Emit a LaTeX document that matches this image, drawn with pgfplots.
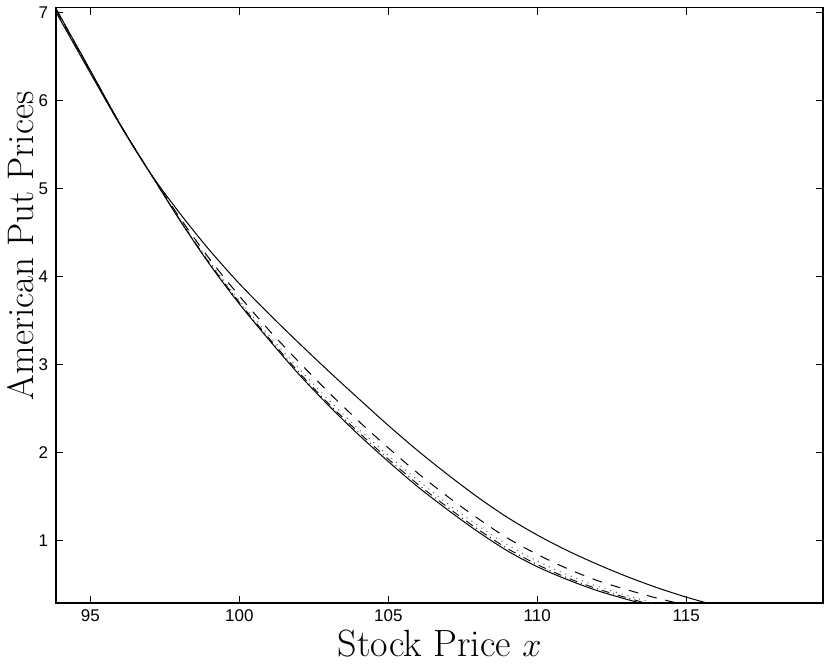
\documentclass[border=0pt]{standalone}
\usepackage{fontspec}
\usepackage{pgfplots}
\pgfplotsset{compat=1.18}
\newfontfamily\ticksfont{Liberation Sans}

\pgfplotstableread{
x      up     dash   dot    dashdot lo
93.85  7.000  7.025  7.030  7.037   7.040
95     6.310  6.330  6.335  6.338   6.340
96     5.720  5.726  5.728  5.729   5.730
97     5.180  5.180  5.180  5.180   5.180
98     4.720  4.670  4.650  4.646   4.640
99     4.300  4.200  4.170  4.151   4.140
100    3.920  3.780  3.730  3.706   3.690
101    3.575  3.390  3.330  3.298   3.280
102    3.245  3.030  2.955  2.913   2.890
103    2.925  2.685  2.600  2.555   2.535
104    2.615  2.360  2.270  2.233   2.205
105    2.310  2.055  1.970  1.928   1.900
106    2.020  1.765  1.685  1.639   1.610
107    1.750  1.500  1.420  1.378   1.350
108    1.495  1.255  1.175  1.132   1.105
109    1.265  1.030  0.955  0.912   0.885
110    1.065  0.845  0.770  0.730   0.705
111    0.890  0.685  0.615  0.580   0.560
112    0.735  0.550  0.485  0.456   0.435
113    0.595  0.445  0.380  0.353   0.335
114    0.470  0.350  0.285  0.260   0.245
115    0.360  0.270  0.205  0.185   0.170
116    0.265  0.200  0.140  0.120   0.110
}\prices

\begin{document}
\begin{tikzpicture}
\begin{axis}[
  width=384pt, height=298pt, scale only axis,
  xmin=93.85, xmax=119.6, ymin=0.294, ymax=7.055,
  xtick={95,100,105,110,115},
  ytick={1,2,3,4,5,6,7},
  tick align=inside, tick pos=both,
  major tick length=3.5pt,
  axis line style={line width=0.8pt},
  every tick/.style={line width=0.6pt, black},
  /pgf/number format/assume math mode=true,
  tick label style={font=\ticksfont\fontsize{8.5}{10}\selectfont},
  xticklabel shift=-0.3pt,
  yticklabel shift=0.5pt,
  xlabel={Stock Price $x$},
  ylabel={American Put Prices},
  xlabel style={font=\fontsize{19}{23}\selectfont, inner sep=3pt,
    at={(axis description cs:0.5,0)}, anchor=base, yshift=-27pt},
  ylabel style={font=\fontsize{18.5}{22}\selectfont, inner sep=3.5pt,
    at={(axis description cs:-0.0469,0.6)}, anchor=center},
  clip=true,
]
\addplot[black, line width=0.5pt, smooth] table[x=x, y=up] {\prices};
\addplot[black, line width=0.5pt, smooth, dash pattern=on 5pt off 4.5pt] table[x=x, y=dash] {\prices};
\addplot[black!65, line width=0.5pt, smooth, dash pattern=on 0.5pt off 2.5pt] table[x=x, y=dot] {\prices};
\addplot[black, line width=0.45pt, smooth, dash pattern=on 4pt off 2pt on 0.5pt off 2pt] table[x=x, y=dashdot] {\prices};
\addplot[black, line width=0.5pt, smooth] table[x=x, y=lo] {\prices};
\end{axis}
\end{tikzpicture}
\end{document}
